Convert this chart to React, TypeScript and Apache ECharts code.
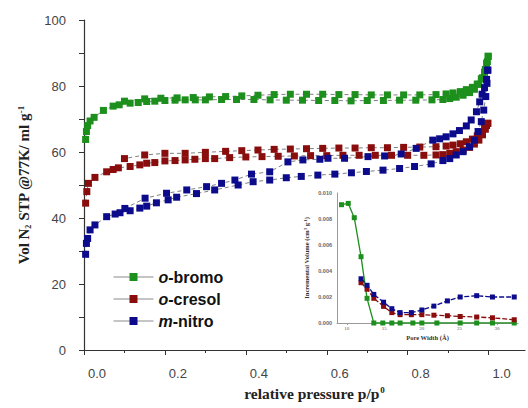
import React, { useEffect, useRef } from 'react';
import * as echarts from 'echarts';

// Main isotherms: [p/p0, volume]
const bromoAds: [number, number][] = [
  [0.004, 63.8], [0.006, 66.2], [0.009, 68.0], [0.015, 69.4], [0.025, 70.5], [0.048, 72.6], [0.072, 73.9],
  [0.087, 74.3], [0.114, 74.8], [0.134, 75.0], [0.155, 75.3], [0.175, 75.4], [0.2, 75.6], [0.225, 75.7],
  [0.25, 75.8], [0.275, 75.8], [0.3, 75.8], [0.34, 75.9], [0.377, 75.9], [0.42, 75.9], [0.46, 75.8],
  [0.5, 75.7], [0.54, 75.7], [0.58, 75.6], [0.62, 75.6], [0.66, 75.5], [0.7, 75.6], [0.74, 75.6],
  [0.78, 75.7], [0.82, 75.7], [0.86, 75.8], [0.887, 75.9], [0.904, 76.2], [0.92, 76.6], [0.937, 77.2],
  [0.953, 78.0], [0.965, 79.0], [0.976, 80.5], [0.985, 82.5], [0.992, 85.0], [0.997, 87.4], [0.999, 89.0],
];
const bromoDes: [number, number][] = [
  [0.999, 89.0], [0.995, 86.9], [0.99, 84.2], [0.982, 82.2], [0.972, 80.6], [0.96, 79.6], [0.945, 78.9],
  [0.93, 78.3], [0.912, 77.9], [0.895, 77.6], [0.87, 77.4], [0.83, 77.3], [0.79, 77.3], [0.75, 77.3],
  [0.71, 77.3], [0.67, 77.4], [0.63, 77.4], [0.59, 77.5], [0.55, 77.5], [0.51, 77.5], [0.47, 77.4],
  [0.43, 77.2], [0.39, 77.0], [0.35, 76.8], [0.31, 76.7], [0.27, 76.5], [0.23, 76.4], [0.19, 76.3],
  [0.15, 76.1], [0.1, 75.4],
];
const cresolAds: [number, number][] = [
  [0.004, 44.5], [0.007, 48.0], [0.011, 50.5], [0.027, 52.3], [0.056, 54.0], [0.072, 54.7], [0.085, 55.2],
  [0.114, 55.6], [0.138, 56.1], [0.155, 56.6], [0.175, 56.8], [0.2, 57.3], [0.225, 57.4], [0.25, 57.6],
  [0.274, 57.8], [0.3, 58.0], [0.323, 58.0], [0.36, 58.3], [0.4, 58.5], [0.44, 58.6], [0.48, 58.7],
  [0.52, 58.8], [0.56, 58.9], [0.6, 58.9], [0.64, 59.0], [0.68, 59.0], [0.72, 59.0], [0.76, 59.0],
  [0.8, 59.0], [0.84, 59.0], [0.87, 59.1], [0.887, 59.2], [0.904, 59.6], [0.92, 60.1], [0.937, 60.6],
  [0.953, 61.4], [0.965, 62.4], [0.976, 63.6], [0.985, 65.2], [0.992, 66.9], [0.998, 68.7],
];
const cresolDes: [number, number][] = [
  [0.998, 68.7], [0.995, 68.0], [0.99, 67.2], [0.982, 66.0], [0.972, 64.9], [0.96, 63.9], [0.945, 63.1],
  [0.93, 62.5], [0.912, 62.1], [0.895, 61.8], [0.87, 61.6], [0.83, 61.5], [0.79, 61.4], [0.75, 61.3],
  [0.71, 61.3], [0.67, 61.2], [0.63, 61.2], [0.59, 61.1], [0.55, 61.0], [0.51, 60.9], [0.47, 60.8],
  [0.43, 60.6], [0.39, 60.4], [0.35, 60.2], [0.3, 59.9], [0.25, 59.6], [0.2, 59.6], [0.15, 59.1],
  [0.1, 58.0],
];
const nitroAds: [number, number][] = [
  [0.004, 29.0], [0.006, 32.3], [0.009, 33.8], [0.015, 36.4], [0.027, 37.9], [0.056, 40.4], [0.077, 41.2],
  [0.089, 41.6], [0.114, 42.2], [0.138, 43.0], [0.155, 43.6], [0.179, 44.6], [0.208, 45.5], [0.229, 46.3],
  [0.278, 47.4], [0.323, 48.5], [0.381, 50.0], [0.418, 51.0], [0.459, 51.5], [0.5, 52.2], [0.537, 52.6],
  [0.578, 53.0], [0.62, 53.3], [0.661, 53.7], [0.698, 54.1], [0.739, 54.5], [0.78, 55.0], [0.817, 55.6],
  [0.858, 56.4], [0.887, 57.4], [0.904, 58.0], [0.92, 59.1], [0.937, 60.1], [0.953, 61.6], [0.965, 63.6],
  [0.974, 66.2], [0.982, 69.2], [0.988, 72.7], [0.993, 76.8], [0.996, 80.8], [0.998, 84.8],
];
const nitroDes: [number, number][] = [
  [0.998, 84.8], [0.995, 82.0], [0.99, 79.5], [0.984, 77.5], [0.978, 75.2], [0.97, 72.2], [0.957, 69.7],
  [0.945, 67.9], [0.928, 66.5], [0.912, 65.5], [0.895, 64.6], [0.879, 64.0], [0.862, 63.6], [0.821, 61.1],
  [0.784, 59.4], [0.743, 58.8], [0.702, 58.6], [0.644, 58.1], [0.603, 58.1], [0.583, 57.8], [0.541, 57.6],
  [0.504, 57.0], [0.459, 54.0], [0.414, 53.3], [0.373, 51.5], [0.34, 50.5], [0.303, 49.5], [0.254, 48.5],
  [0.204, 47.5], [0.151, 46.0], [0.101, 42.9],
];

// Inset pore size distribution: [pore width (Å), incremental volume]
const bromoPsd: [number, number][] = [
  [9.3, 0.0091], [10.2, 0.0092], [11.0, 0.0081], [11.9, 0.0051], [12.7, 0.0019], [13.6, 0.0],
  [14.8, 0.0], [16.0, 0.0], [17.1, 0.0], [18.8, 0.0], [20.0, 0.0], [22.0, 0.0], [25.1, 0.0],
  [27.3, 0.0], [29.4, 0.0], [32.3, 0.0],
];
const cresolPsd: [number, number][] = [
  [11.9, 0.0031], [12.7, 0.0026], [13.6, 0.0019], [14.9, 0.00128], [16.0, 0.0008], [17.1, 0.00064],
  [18.6, 0.00064], [20.0, 0.00064], [21.6, 0.0006], [23.4, 0.00056], [25.1, 0.0005], [27.3, 0.00046],
  [29.4, 0.0004], [32.3, 0.00025],
];
const nitroPsd: [number, number][] = [
  [11.9, 0.0034], [12.7, 0.0029], [13.6, 0.0022], [14.9, 0.0016], [16.0, 0.0011], [17.1, 0.0008],
  [18.6, 0.0008], [20.0, 0.001], [21.6, 0.0013], [23.4, 0.0017], [25.1, 0.002], [27.3, 0.0021],
  [29.4, 0.002], [32.3, 0.002],
];

const names = ['o-bromo', 'o-cresol', 'm-nitro'];
const colors = ['#1c8f1c', '#8a0d0d', '#0b0b8c'];
const xMajorTicks = [0, 0.2, 0.4, 0.6, 0.8, 1.0];
const xMinorTicks = [0.1, 0.3, 0.5, 0.7, 0.9];
const insetXTicks = [10, 15, 20, 25, 30];

const SANS = 'Liberation Sans, Arial, sans-serif';
const SERIF = 'Liberation Serif, Times New Roman, serif';

export default function App() {
  const ref = useRef<HTMLDivElement>(null);
  useEffect(() => {
    if (!ref.current) return;
    const chart = echarts.init(ref.current, undefined, { renderer: 'svg' });
    const mainLine = { color: '#707070', width: 0.9, type: [4, 3] as number[] };
    const mainSeries = (name: string, data: [number, number][], color: string) => ({
      type: 'line',
      name,
      data,
      xAxisIndex: 0,
      yAxisIndex: 0,
      symbol: 'rect',
      symbolSize: 7,
      itemStyle: { color },
      lineStyle: mainLine,
      z: 3,
    });
    const insetSeries = (name: string, data: [number, number][], color: string, dashed: boolean) => ({
      type: 'line',
      name,
      data,
      xAxisIndex: 2,
      yAxisIndex: 1,
      symbol: 'rect',
      symbolSize: 5,
      itemStyle: { color },
      lineStyle: { color, width: 1.3, type: dashed ? [5, 2] : 'solid' },
      z: 4,
    });
    chart.setOption({
      animation: false,
      backgroundColor: '#ffffff',
      grid: [
        { left: 84, top: 20, width: 441, height: 330, containLabel: false },
        { left: 337, top: 193, width: 181, height: 130, containLabel: false },
      ],
      legend: {
        data: names,
        orient: 'vertical',
        left: 108,
        top: 264,
        itemWidth: 40,
        itemHeight: 10,
        itemGap: 6,
        lineStyle: { color: '#8a8a8a', type: 'solid', width: 1 },
        formatter: (n: string) => `{i|${n[0]}}{n|${n.slice(1)}}`,
        textStyle: {
          rich: {
            i: { fontStyle: 'italic', fontWeight: 'bold', fontSize: 16, fontFamily: SANS, color: '#111', lineHeight: 16 },
            n: { fontWeight: 'bold', fontSize: 16, fontFamily: SANS, color: '#111', lineHeight: 16 },
          },
        },
      },
      xAxis: [
        {
          type: 'value',
          gridIndex: 0,
          min: 0,
          max: 1.09,
          name: '{a|relative pressure p/p}{s|0}',
          nameLocation: 'middle',
          nameGap: 35,
          nameTextStyle: {
            padding: [0, 0, 0, 20],
            rich: {
              a: { fontFamily: SERIF, fontWeight: 'bold', fontSize: 15.5, color: '#222' },
              s: { fontFamily: SERIF, fontWeight: 'bold', fontSize: 9, color: '#222', verticalAlign: 'top', padding: [0, 0, 6, 1] },
            },
          },
          axisLine: { show: true, onZero: false, lineStyle: { color: '#333', width: 1.2 } },
          axisTick: { show: true, length: 5, customValues: xMajorTicks, lineStyle: { color: '#333' } },
          axisLabel: {
            customValues: xMajorTicks,
            formatter: (v: number) => v.toFixed(1),
            margin: 17,
            fontSize: 13,
            fontFamily: SANS,
            color: '#444',
            padding: [0, 0, 0, 26],
          },
          splitLine: { show: false },
        },
        {
          type: 'value',
          gridIndex: 0,
          position: 'bottom',
          min: 0,
          max: 1.09,
          axisLine: { show: false },
          axisTick: { show: true, length: 3, customValues: xMinorTicks, lineStyle: { color: '#333' } },
          axisLabel: { show: false },
          splitLine: { show: false },
        },
        {
          type: 'value',
          gridIndex: 1,
          min: 8.7,
          max: 32.8,
          name: 'Pore Width (Å)',
          nameLocation: 'middle',
          nameGap: 11,
          nameTextStyle: { fontFamily: SERIF, fontWeight: 'bold', fontSize: 6.5, color: '#333' },
          axisLine: { show: true, onZero: false, lineStyle: { color: '#9a9a9a', width: 1 } },
          axisTick: { show: true, length: 2, customValues: insetXTicks, lineStyle: { color: '#999' } },
          axisLabel: { customValues: insetXTicks, fontSize: 5, fontFamily: SERIF, color: '#555', margin: 3 },
          splitLine: { show: false },
        },
      ],
      yAxis: [
        {
          type: 'value',
          gridIndex: 0,
          min: 0,
          max: 100,
          interval: 20,
          name: '{a|Vol N}{s|2}{a| STP @77K/ ml g}{p|-1}',
          nameLocation: 'middle',
          nameRotate: 90,
          nameGap: 52,
          nameTextStyle: {
            rich: {
              a: { fontFamily: SERIF, fontWeight: 'bold', fontSize: 15, color: '#222' },
              s: { fontFamily: SERIF, fontWeight: 'bold', fontSize: 8, color: '#222', verticalAlign: 'bottom', padding: [6, 0, 0, 0] },
              p: { fontFamily: SERIF, fontWeight: 'bold', fontSize: 9, color: '#222', verticalAlign: 'top', padding: [0, 0, 7, 0] },
            },
          },
          axisLine: { show: true, onZero: false, lineStyle: { color: '#333', width: 1.2 } },
          axisTick: { show: true, length: 5, lineStyle: { color: '#333' } },
          minorTick: { show: true, splitNumber: 2, length: 5, lineStyle: { color: '#333' } },
          axisLabel: { fontSize: 13, fontFamily: SANS, color: '#444', margin: 18 },
          splitLine: { show: false },
        },
        {
          type: 'value',
          gridIndex: 1,
          min: 0,
          max: 0.01,
          interval: 0.002,
          name: 'Incremental Volume (cm{s|3} g{s|-1})',
          nameLocation: 'middle',
          nameRotate: 90,
          nameGap: 27,
          nameTextStyle: {
            fontFamily: SERIF,
            fontWeight: 'bold',
            fontSize: 6.5,
            color: '#333',
            rich: { s: { fontFamily: SERIF, fontWeight: 'bold', fontSize: 4.5, color: '#333', verticalAlign: 'top' } },
          },
          axisLine: { show: true, onZero: false, lineStyle: { color: '#9a9a9a', width: 1 } },
          axisTick: { show: false },
          axisLabel: {
            formatter: (v: number) => v.toFixed(3),
            fontSize: 5.5,
            fontFamily: SANS,
            fontWeight: 'bold',
            color: '#666',
            margin: 5,
          },
          splitLine: { show: false },
        },
      ],
      series: [
        mainSeries(names[0], bromoAds, colors[0]),
        mainSeries(names[0], bromoDes, colors[0]),
        mainSeries(names[1], cresolAds, colors[1]),
        mainSeries(names[1], cresolDes, colors[1]),
        mainSeries(names[2], nitroAds, colors[2]),
        mainSeries(names[2], nitroDes, colors[2]),
        insetSeries('PSD o-bromo', bromoPsd, colors[0], false),
        insetSeries('PSD o-cresol', cresolPsd, colors[1], true),
        insetSeries('PSD m-nitro', nitroPsd, colors[2], true),
      ],
    });
    return () => chart.dispose();
  }, []);
  return <div ref={ref} style={{ width: 528, height: 408, position: 'absolute', left: 0, top: 0 }} />;
}
